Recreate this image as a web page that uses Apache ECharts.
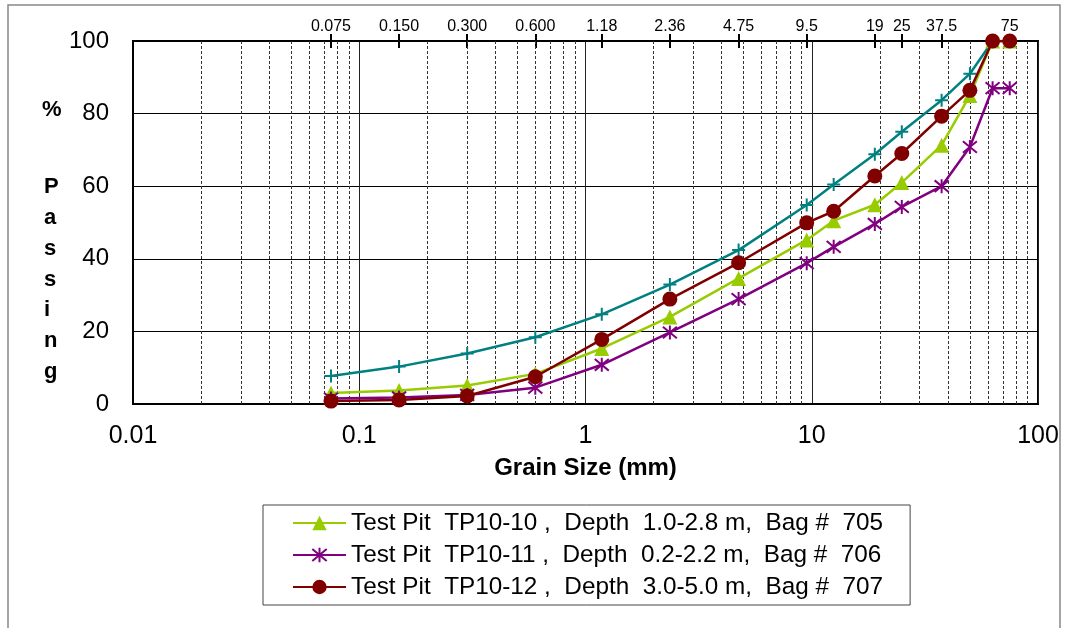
<!DOCTYPE html>
<html>
<head>
<meta charset="utf-8">
<script src="https://cdn.jsdelivr.net/npm/echarts/dist/echarts.min.js"></script>
<style>
html,body{margin:0;padding:0;background:#fff;}
#chart{width:1067px;height:628px;}
</style>
</head>
<body>
<div id="chart"></div>
<script>
// ---- data ----
const sieveSizes = [0.075, 0.15, 0.3, 0.6, 1.18, 2.36, 4.75, 9.5, 12.5, 19, 25, 37.5, 50, 63, 75];
const tp1010 = [3.0, 3.7, 5.1, 8.3, 15.3, 24.0, 34.6, 45.2, 50.5, 54.9, 61.0, 71.3, 85.0, 100, 100];
const tp1011 = [1.5, 1.8, 2.5, 4.5, 10.8, 19.7, 28.9, 38.8, 43.3, 49.6, 54.3, 60.0, 70.8, 87.0, 87.0];
const tp1012 = [0.8, 1.1, 2.2, 7.5, 17.8, 28.9, 38.9, 49.9, 53.1, 62.8, 69.0, 79.3, 86.4, 100, 100];
const envelope = [7.7, 10.3, 13.9, 18.4, 24.7, 32.9, 42.4, 54.8, 60.5, 68.8, 75.0, 83.7, 91.0, 100, 100];
const seriesNames = [
  'Test Pit  TP10-10 ,  Depth  1.0-2.8 m,  Bag #  705',
  'Test Pit  TP10-11 ,  Depth  0.2-2.2 m,  Bag #  706',
  'Test Pit  TP10-12 ,  Depth  3.0-5.0 m,  Bag #  707'
];
const topTickValues = [0.075, 0.15, 0.3, 0.6, 1.18, 2.36, 4.75, 9.5, 19, 25, 37.5, 75];
const topTickLabels = ['0.075', '0.150', '0.300', '0.600', '1.18', '2.36', '4.75', '9.5', '19', '25', '37.5', '75'];
const bottomTickValues = [0.01, 0.1, 1, 10, 100];
const bottomTickLabels = ['0.01', '0.1', '1', '10', '100'];
const yTickLabels = ['0', '20', '40', '60', '80', '100'];

// minor log grid values (2..9 per decade)
const minorGrid = [];
for (let e = -2; e <= 1; e++) {
  for (let k = 2; k <= 9; k++) minorGrid.push(+(k * Math.pow(10, e)).toPrecision(6));
}

const FONT = "'Liberation Sans', Arial, sans-serif";
const pair = (arr) => sieveSizes.map((s, i) => [s, arr[i]]);
const asterisk = 'path://M0,0L10,10M10,0L0,10M5,-1L5,11';
const plus = 'path://M5,0L5,10M0,5L10,5';

const chart = echarts.init(document.getElementById('chart'), null, {renderer: 'canvas'});
const labelFor = (vals, labels) => (v) => {
  const i = vals.findIndex(t => Math.abs(t - v) / t < 1e-6);
  return i >= 0 ? labels[i] : '';
};

chart.setOption({
  backgroundColor: '#fff',
  animation: false,
  textStyle: {fontFamily: FONT},
  grid: {left: 133, right: 29, top: 41, bottom: 224, show: true, borderColor: '#000', borderWidth: 2},
  xAxis: [
    {
      type: 'log', logBase: 10, min: 0.01, max: 100, position: 'bottom',
      axisLine: {show: true, lineStyle: {color: '#000', width: 2}},
      axisTick: {show: false},
      axisLabel: {fontSize: 25, color: '#000', margin: 20, fontFamily: FONT,
        formatter: labelFor(bottomTickValues, bottomTickLabels)},
      splitLine: {show: true, lineStyle: {color: '#222', width: 1, type: 'solid'}},
      name: 'Grain Size (mm)', nameLocation: 'middle', nameGap: 52,
      nameTextStyle: {fontSize: 24, fontWeight: 'bold', color: '#000', fontFamily: FONT}
    },
    {
      type: 'log', logBase: 10, min: 0.01, max: 100, position: 'top',
      axisLine: {show: true, lineStyle: {color: '#000', width: 2}},
      axisTick: {show: true, inside: false, length: 7, customValues: topTickValues, lineStyle: {color: '#000', width: 2}},
      axisLabel: {show: true, customValues: topTickValues, fontSize: 16, color: '#000', margin: 6, fontFamily: FONT,
        formatter: labelFor(topTickValues, topTickLabels)},
      splitLine: {show: false}
    },
    {
      type: 'log', logBase: 10, min: 0.01, max: 100, position: 'top',
      axisLine: {show: false},
      axisTick: {show: true, inside: true, length: 7, customValues: topTickValues, lineStyle: {color: '#000', width: 2}},
      axisLabel: {show: false},
      splitLine: {show: false}
    }
  ],
  yAxis: {
    type: 'value', min: 0, max: 100, interval: 20,
    axisLine: {show: true, lineStyle: {color: '#000', width: 2}},
    axisTick: {show: false},
    axisLabel: {fontSize: 24, color: '#000', margin: 24, fontFamily: FONT,
      formatter: (v) => yTickLabels[Math.round(v / 20)]},
    splitLine: {show: true, lineStyle: {color: '#000', width: 1}}
  },
  legend: {
    data: seriesNames,
    orient: 'vertical', left: 263, top: 505,
    borderColor: '#444', borderWidth: 1,
    padding: [4, 27, 4, 29], itemGap: 4, itemWidth: 53, itemHeight: 18,
    selectedMode: false,
    textStyle: {fontSize: 24.3, color: '#000', fontFamily: FONT, lineHeight: 28}
  },
  graphic: [
    {type: 'rect', silent: true, shape: {x: 8, y: 5, width: 1052, height: 640},
      style: {fill: 'none', stroke: '#888', lineWidth: 1.5}},
    {type: 'text', left: 42, top: 99, silent: true,
      style: {text: '%', font: "bold 22px 'Liberation Sans', Arial", fill: '#000'}},
    {type: 'text', left: 44, top: 172, silent: true,
      style: {text: 'P\na\ns\ns\ni\nn\ng', font: "bold 22px 'Liberation Sans', Arial", fill: '#000',
        lineHeight: 30.7, align: 'center', x: 9}}
  ],
  series: [
    {
      name: 'minor grid', type: 'line', data: [], silent: true,
      markLine: {silent: true, symbol: 'none', z: 1, label: {show: false},
        lineStyle: {color: '#333', width: 1, type: [3, 2]},
        data: minorGrid.map(v => ({xAxis: v}))}
    },
    {
      name: 'envelope', type: 'line', data: pair(envelope), z: 3,
      symbol: plus, symbolSize: 13,
      lineStyle: {color: '#008080', width: 2.5},
      itemStyle: {color: '#008080', borderColor: '#008080', borderWidth: 2}
    },
    {
      name: seriesNames[0], type: 'line', data: pair(tp1010), z: 4,
      symbol: 'triangle', symbolSize: 15,
      lineStyle: {color: '#99CC00', width: 2.5},
      itemStyle: {color: '#99CC00'}
    },
    {
      name: seriesNames[1], type: 'line', data: pair(tp1011), z: 5,
      symbol: asterisk, symbolSize: 14,
      lineStyle: {color: '#800080', width: 2.5},
      itemStyle: {color: '#800080', borderColor: '#800080', borderWidth: 2}
    },
    {
      name: seriesNames[2], type: 'line', data: pair(tp1012), z: 6,
      symbol: 'circle', symbolSize: 15,
      lineStyle: {color: '#800000', width: 2.5},
      itemStyle: {color: '#800000'}
    }
  ]
});
</script>
</body>
</html>
